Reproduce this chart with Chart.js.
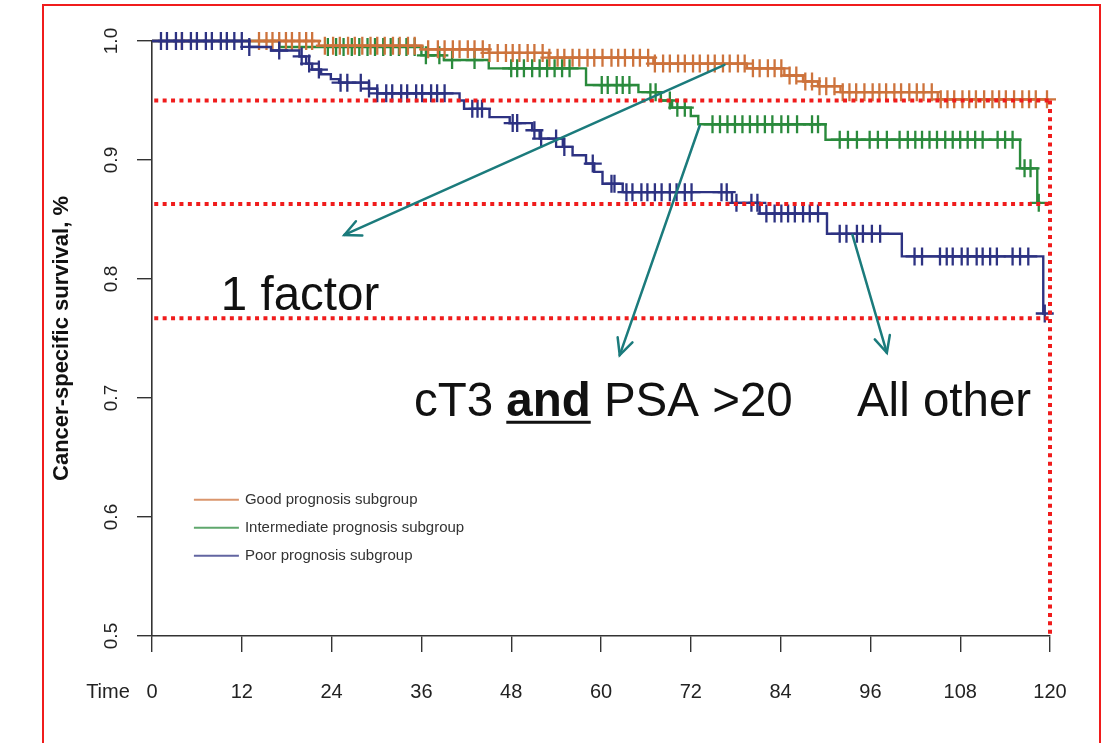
<!DOCTYPE html>
<html>
<head>
<meta charset="utf-8">
<script src="https://cdn.jsdelivr.net/npm/chart.js@4.4.1/dist/chart.umd.min.js"></script>
<style>
  html, body { margin: 0; padding: 0; background: #fff; }
  #wrap { position: relative; width: 1109px; height: 743px; overflow: hidden; }
  #wrap canvas { position: absolute; left: 0; top: 0; }
  #frame { position: absolute; left: 42px; top: 4px; width: 1059px; height: 770px;
           border: 2px solid #f01c1c; box-sizing: border-box; pointer-events: none; }
</style>
</head>
<body>
<div id="wrap">
  <canvas id="km" width="1109" height="743"></canvas>
  <div id="frame"></div>
</div>
<script>
// Axis ticks
const xTicks = [0, 12, 24, 36, 48, 60, 72, 84, 96, 108, 120];
const yTicks = [0.5, 0.6, 0.7, 0.8, 0.9, 1.0];

// Kaplan-Meier steps: survival value that starts at each time (months)
const goodTimes = [0, 22.3, 36, 45, 53, 67, 79.5, 84.5, 87, 89, 92, 105, 119.7];
const goodSurv  = [1.0, 0.996, 0.993, 0.990, 0.986, 0.981, 0.977, 0.971, 0.966, 0.962, 0.957, 0.951, 0.951];

const intTimes = [0, 17, 36, 39, 45, 58, 65, 68, 69.5, 72, 73, 90, 116, 118.3, 118.8];
const intSurv  = [1.0, 0.995, 0.988, 0.984, 0.977, 0.963, 0.957, 0.950, 0.944, 0.937, 0.930, 0.917, 0.893, 0.864, 0.864];

const poorTimes = [0, 13, 15.9, 19.7, 20.6, 21.4, 22.6, 23.9, 25, 29, 30.1, 41.1, 41.7, 45.1, 47.8, 50.8, 51.8,
                   54.9, 56.2, 58.0, 59.1, 60.2, 62.9, 77.5, 81.2, 90.2, 100.2, 119.1, 119.4];
const poorSurv  = [1.0, 0.995, 0.992, 0.987, 0.981, 0.976, 0.972, 0.968, 0.965, 0.960, 0.956, 0.950, 0.943, 0.936, 0.931,
                   0.925, 0.918, 0.911, 0.904, 0.897, 0.890, 0.880, 0.873, 0.864, 0.855, 0.838, 0.819, 0.771, 0.771];

// Censoring times (months)
const goodCensor = [4, 14.3, 15.3, 16.1, 17, 17.9, 18.7, 19.7, 20.6, 21.4, 23.1, 24.2, 25.1, 26.2, 27.1, 28.1, 29.2,
  30.1, 31.1, 32.2, 33.1, 34.2, 35.1, 36.9, 38.2, 39.1, 40.2, 41.1, 42.2, 43.1, 44.2, 45.1, 46.2, 47.3, 48.2, 49.1,
  50.2, 51.1, 52.2, 53.1, 54.2, 55.1, 56.2, 57.1, 58.2, 59.1, 60.2, 61.4, 62.3, 63.2, 64.3, 65.2, 66.3, 67.2, 68.3,
  69.2, 70.3, 71.2, 72.3, 73.2, 74.3, 75.2, 76.3, 77.2, 78.3, 79.2, 80.3, 81.2, 82.3, 83.2, 84.1, 85.2, 86.1, 87.3,
  88.2, 89.2, 90.1, 91.2, 92.3, 93.2, 94.1, 95.2, 96.3, 97.2, 98.1, 99.2, 100.1, 101.2, 102.2, 103.1, 104.2, 105.4,
  106.3, 107.2, 108.3, 109.2, 110.1, 111.2, 112.3, 113.2, 114.1, 115.2, 116.3, 117.2, 118.1, 119.6];

const intCensor = [23.5, 24.6, 25.6, 26.7, 27.7, 28.8, 29.8, 30.9, 31.9, 33.0, 34.0, 35.1, 36.6, 38.4, 40.1, 43.1,
  48.0, 48.8, 49.7, 50.8, 51.8, 52.8, 53.8, 54.8, 55.8, 60.1, 60.9, 62.1, 62.9, 63.8, 66.6, 67.3, 69.2, 70.2, 71.2,
  74.9, 75.9, 76.9, 77.9, 78.9, 79.9, 80.9, 81.9, 82.9, 84.1, 85.0, 86.2, 88.2, 89.0, 91.9, 93.0, 94.2, 95.9, 97.0,
  98.2, 99.9, 101.0, 102.0, 102.9, 103.9, 104.9, 106.0, 107.0, 108.0, 109.0, 110.0, 111.0, 113.0, 114.0, 115.0,
  116.6, 117.4, 118.5];

const poorCensor = [1.2, 2.0, 3.2, 4.0, 5.2, 6.0, 7.2, 8.0, 9.2, 10.0, 11.0, 12.0, 13.0, 17.0, 20.0, 21.0, 22.3,
  25.2, 26.1, 27.9, 29.0, 30.1, 31.3, 32.1, 33.3, 34.1, 35.3, 36.1, 37.3, 38.1, 39.1, 42.8, 43.5, 44.1, 48.2, 48.8,
  51.1, 52.0, 54.0, 55.1, 58.9, 61.4, 61.8, 63.4, 64.2, 65.4, 66.2, 67.2, 68.1, 69.2, 70.1, 71.2, 72.1, 76.1, 76.8,
  78.1, 80.1, 80.9, 82.1, 83.2, 84.1, 85.0, 85.9, 87.0, 87.9, 89.0, 91.9, 92.8, 94.2, 95.0, 96.2, 97.3, 101.9,
  102.9, 105.3, 106.2, 107.0, 108.2, 109.0, 110.2, 111.0, 112.0, 112.9, 115.0, 116.0, 117.1, 119.3];

// Reference survival levels marked with dotted lines, and the cut-off time
const refLevels = [0.95, 0.863, 0.767];
const refTime = 120;

const groupNames = ['Good prognosis subgroup', 'Intermediate prognosis subgroup', 'Poor prognosis subgroup'];

const COL = {
  good: '#cd733c',
  inter: '#2a8a3c',
  poor: '#2d3282',
  ref: '#f01c1c',
  note: '#1b7b7c'
};
const SANS = "'Liberation Sans', Arial, sans-serif";

function survAt(times, surv, t) {
  let v = surv[0];
  for (let i = 0; i < times.length; i++) if (times[i] <= t) v = surv[i];
  return v;
}
function stepData(times, surv) { return times.map((t, i) => ({ x: t, y: surv[i] })); }
function censorData(times, surv, cens) { return cens.map(t => ({ x: t, y: survAt(times, surv, t) })); }

function curve(label, times, surv, color) {
  return { label, data: stepData(times, surv), borderColor: color, borderWidth: 2.4, stepped: 'before',
           pointRadius: 0, fill: false, clip: false };
}
function marks(times, surv, cens, color) {
  return { label: '', data: censorData(times, surv, cens), showLine: false, pointStyle: 'cross',
           pointRadius: 9, pointBorderWidth: 2.3, borderColor: color, pointBorderColor: color,
           backgroundColor: color, clip: false };
}
function refLine(points) {
  return { label: '', data: points, borderColor: COL.ref, borderWidth: 4, borderDash: [4, 4.4],
           borderCapStyle: 'butt', pointRadius: 0, fill: false, clip: false };
}

const datasets = [];
refLevels.forEach(v => datasets.push(refLine([{ x: 0.3, y: v }, { x: refTime, y: v }])));
datasets.push(refLine([{ x: refTime, y: refLevels[0] }, { x: refTime, y: 0.5 }]));
datasets.push(marks(poorTimes, poorSurv, poorCensor, COL.poor));
datasets.push(curve(groupNames[2], poorTimes, poorSurv, COL.poor));
datasets.push(marks(goodTimes, goodSurv, goodCensor, COL.good));
datasets.push(curve(groupNames[0], goodTimes, goodSurv, COL.good));
datasets.push(marks(intTimes, intSurv, intCensor, COL.inter));
datasets.push(curve(groupNames[1], intTimes, intSurv, COL.inter));

// Legend box inside the plot, in the style of an R survival plot
const kmLegend = {
  id: 'kmLegend',
  afterDatasetsDraw(chart, args, opts) {
    const { ctx, scales } = chart;
    const x0 = scales.x.getPixelForValue(opts.at[0]);
    const y0 = scales.y.getPixelForValue(opts.at[1]);
    ctx.save();
    ctx.font = '15px ' + SANS;
    ctx.textBaseline = 'middle';
    opts.items.forEach((it, i) => {
      const y = y0 + i * 28;
      ctx.strokeStyle = it.color; ctx.globalAlpha = 0.75; ctx.lineWidth = 2;
      ctx.beginPath(); ctx.moveTo(x0, y); ctx.lineTo(x0 + 45, y); ctx.stroke();
      ctx.globalAlpha = 1;
      ctx.fillStyle = '#333';
      ctx.fillText(it.text, x0 + 51, y);
    });
    ctx.restore();
  }
};

// Axis caption at the left end of the time axis
const timeCaption = {
  id: 'timeCaption',
  afterDraw(chart, args, opts) {
    const { ctx, chartArea } = chart;
    ctx.save();
    ctx.font = '20px ' + SANS;
    ctx.fillStyle = '#222';
    ctx.textAlign = 'center';
    ctx.textBaseline = 'middle';
    ctx.fillText(opts.text, chartArea.left - 44, chartArea.bottom + 56);
    ctx.restore();
  }
};

// Arrows and group labels
const notes = {
  id: 'notes',
  afterDraw(chart, args, opts) {
    const { ctx, scales } = chart;
    const px = p => [scales.x.getPixelForValue(p[0]), scales.y.getPixelForValue(p[1])];
    ctx.save();
    ctx.strokeStyle = COL.note; ctx.lineWidth = 2.5; ctx.lineCap = 'round';
    opts.arrows.forEach(a => {
      const [x1, y1] = px(a.from), [x2, y2] = px(a.to);
      const ang = Math.atan2(y2 - y1, x2 - x1);
      ctx.beginPath(); ctx.moveTo(x1, y1); ctx.lineTo(x2, y2); ctx.stroke();
      ctx.beginPath();
      ctx.moveTo(x2 - 18 * Math.cos(ang - 0.45), y2 - 18 * Math.sin(ang - 0.45));
      ctx.lineTo(x2, y2);
      ctx.lineTo(x2 - 18 * Math.cos(ang + 0.45), y2 - 18 * Math.sin(ang + 0.45));
      ctx.stroke();
    });
    ctx.fillStyle = '#111';
    ctx.textBaseline = 'middle';
    opts.labels.forEach(l => {
      let [x, y] = px(l.at);
      l.parts.forEach(p => {
        ctx.font = (p.bold ? 'bold ' : '') + '47.5px ' + SANS;
        const w = ctx.measureText(p.text).width;
        ctx.fillText(p.text, x, y);
        if (p.underline) {
          ctx.fillRect(x, y + 18, w, 3);
        }
        x += w;
      });
    });
    ctx.restore();
  }
};

new Chart(document.getElementById('km'), {
  type: 'line',
  data: { datasets },
  options: {
    responsive: false,
    animation: false,
    events: [],
    layout: { padding: { left: 45, top: 41, right: 59, bottom: 0 } },
    plugins: {
      legend: { display: false },
      tooltip: { enabled: false },
      kmLegend: {
        at: [5.6, 0.6145],
        items: [
          { text: groupNames[0], color: COL.good },
          { text: groupNames[1], color: COL.inter },
          { text: groupNames[2], color: COL.poor }
        ]
      },
      timeCaption: { text: 'Time' },
      notes: {
        arrows: [
          { from: [76.5, 0.980], to: [25.7, 0.837] },
          { from: [73.2, 0.929], to: [62.5, 0.736] },
          { from: [93.6, 0.837], to: [98.2, 0.738] }
        ],
        labels: [
          { at: [9.2, 0.785], parts: [{ text: '1 factor' }] },
          { at: [35.0, 0.696], parts: [{ text: 'cT3 ' }, { text: 'and', bold: true, underline: true }, { text: ' PSA >20' }] },
          { at: [94.2, 0.696], parts: [{ text: 'All other' }] }
        ]
      }
    },
    scales: {
      x: {
        type: 'linear', min: 0, max: 120, position: 'bottom',
        afterBuildTicks: s => { s.ticks = xTicks.map(v => ({ value: v })); },
        afterFit: s => { s.height = 107; },
        grid: { drawOnChartArea: false, drawTicks: true, tickLength: 16, color: '#333', lineWidth: 1.4 },
        border: { display: true, color: '#333', width: 1.6 },
        ticks: { autoSkip: false, maxRotation: 0, color: '#222', padding: 28,
                 font: { family: SANS, size: 20 } }
      },
      y: {
        type: 'linear', min: 0.5, max: 1.0, position: 'left',
        afterBuildTicks: s => { s.ticks = yTicks.map(v => ({ value: v })); },
        afterFit: s => { s.width = 107; },
        grid: { drawOnChartArea: false, drawTicks: true, tickLength: 15, color: '#333', lineWidth: 1.4 },
        border: { display: true, color: '#333', width: 1.6 },
        ticks: { minRotation: 90, maxRotation: 90, crossAlign: 'center', padding: 12, color: '#222',
                 font: { family: SANS, size: 19 }, callback: v => v.toFixed(1) },
        title: { display: true, text: 'Cancer-specific survival, %', color: '#111',
                 padding: { top: 4, bottom: 0 }, font: { family: SANS, size: 22, weight: 'bold' } }
      }
    }
  },
  plugins: [kmLegend, timeCaption, notes]
});
</script>
</body>
</html>
